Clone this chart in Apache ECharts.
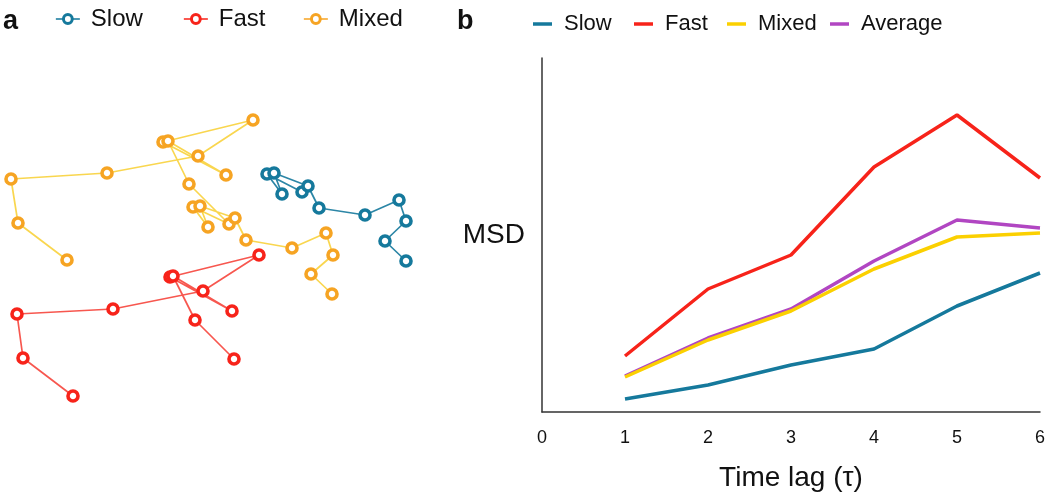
<!DOCTYPE html>
<html>
<head>
<meta charset="utf-8">
<script src="https://cdn.jsdelivr.net/npm/echarts@6/dist/echarts.min.js"></script>
<style>
html,body{margin:0;padding:0;background:#fff;}
#chart{width:1050px;height:495px;}
</style>
</head>
<body>
<div id="chart"></div>
<script>
// ---- Panel a: trajectories (arbitrary position units) ----
const slowX = [30.2, 26.7, 28.2, 27.4, 30.8, 31.9, 36.5, 39.9, 40.6, 38.5, 40.6];
const slowY = [20.8, 22.6, 20.6, 22.7, 21.4, 19.2, 18.5, 20.0, 17.9, 15.9, 13.9];
const fastX = [7.3, 2.3, 1.7, 11.3, 20.3, 25.9, 17.0, 23.2, 17.3, 19.5, 23.4];
const fastY = [0.4, 4.2, 8.6, 9.1, 10.9, 14.5, 12.3, 8.9, 12.4, 8.0, 4.1];
const mixedX = [6.7, 1.8, 1.1, 10.7, 19.8, 25.3, 16.3, 22.6, 16.8, 18.9, 22.9, 19.3, 20.8, 20.0, 23.5, 24.6, 29.2, 32.6, 33.3, 31.1, 33.2];
const mixedY = [14.0, 17.7, 22.1, 22.7, 24.4, 28.0, 25.8, 22.5, 25.9, 21.6, 17.6, 19.3, 17.3, 19.4, 18.2, 16.0, 15.2, 16.7, 14.5, 12.6, 10.6];

// ---- Panel b: MSD vs time lag ----
const lags = [1, 2, 3, 4, 5, 6];
const xTicks = ['0', '1', '2', '3', '4', '5', '6'];
const msdSlow = [1.3, 2.7, 4.7, 6.3, 10.6, 13.9];
const msdFast = [5.6, 12.3, 15.7, 24.5, 29.7, 23.4];
const msdMixed = [3.5, 7.2, 10.1, 14.3, 17.5, 17.9];
const msdAverage = [3.6, 7.4, 10.3, 15.1, 19.2, 18.4];

const C = {
  slow: '#15799c', fast: '#f7231a', mixedSym: '#f6a423', mixedLine: '#f8d23c',
  mixedB: '#fbd000', avg: '#b146c2'
};
const FONT = '"Liberation Sans", Arial, Helvetica, sans-serif';

function pairs(xs, ys) { return xs.map((x, i) => [x, ys[i]]); }

const chart = echarts.init(document.getElementById('chart'), null, {renderer: 'canvas'});

function trajSeries(name, xs, ys, symColor, lineColor) {
  return {
    name, type: 'line', xAxisIndex: 0, yAxisIndex: 0,
    data: pairs(xs, ys),
    symbol: 'circle', symbolSize: 10, showAllSymbol: true,
    itemStyle: {color: '#fff', borderColor: symColor, borderWidth: 3.6},
    lineStyle: {color: lineColor, width: 1.7, opacity: 0.9},
    emphasis: {disabled: true}, animation: false
  };
}
function msdSeries(name, data, color, z) {
  return {
    name, type: 'line', xAxisIndex: 1, yAxisIndex: 1,
    data: lags.map((l, i) => [l, data[i]]),
    symbol: 'none', z: z,
    lineStyle: {color: color, width: 3.5},
    itemStyle: {color: color},
    emphasis: {disabled: true}, animation: false
  };
}
function legA(name, left, color) {
  return {
    data: [{name: name, itemStyle: {color: '#fff', borderColor: color, borderWidth: 3}, lineStyle: {color: color, width: 1.7}}],
    left: left, top: 7, itemWidth: 24, itemHeight: 11, padding: 0,
    textStyle: {fontFamily: FONT, fontSize: 24, color: '#111', padding: [0, 0, 0, 6]},
    selectedMode: false
  };
}
function legB(name, left, color) {
  return {
    data: [{name: name, icon: 'rect', itemStyle: {color: color, borderWidth: 0}}],
    left: left, top: 13, itemWidth: 19, itemHeight: 3.5, padding: 0,
    textStyle: {fontFamily: FONT, fontSize: 22, color: '#111', padding: [0, 0, 0, 7]},
    selectedMode: false
  };
}

const option = {
  backgroundColor: '#fff',
  animation: false,
  title: [
    {text: 'a', left: -2, top: 3, textStyle: {fontFamily: FONT, fontSize: 27, fontWeight: 'bold', color: '#111'}},
    {text: 'b', left: 452, top: 3, textStyle: {fontFamily: FONT, fontSize: 27, fontWeight: 'bold', color: '#111'}}
  ],
  legend: [
    legA('Slow', 55, C.slow), legA('Fast', 183, C.fast), legA('Mixed', 303, C.mixedSym),
    legB('Slow', 533, C.slow), legB('Fast', 634, C.fast), legB('Mixed', 727, C.mixedB), legB('Average', 830, C.avg)
  ],
  grid: [
    {left: 0, top: 0, width: 450, height: 400, containLabel: false, outerBoundsMode: 'none'},
    {left: 542, top: 58, width: 498, height: 354, containLabel: false, outerBoundsMode: 'none'}
  ],
  xAxis: [
    {type: 'value', gridIndex: 0, min: 0, max: 45, show: false},
    {type: 'value', gridIndex: 1, min: 0, max: 6, interval: 1,
     axisLine: {show: true, lineStyle: {color: '#333', width: 1.5}},
     axisTick: {show: false}, splitLine: {show: false},
     axisLabel: {fontFamily: FONT, fontSize: 18, color: '#111', margin: 17,
                 formatter: v => xTicks[v]},
     name: 'Time lag (τ)', nameLocation: 'middle', nameGap: 52,
     nameTextStyle: {fontFamily: FONT, fontSize: 28, color: '#111'}}
  ],
  yAxis: [
    {type: 'value', gridIndex: 0, min: 0, max: 40, show: false},
    {type: 'value', gridIndex: 1, min: 0, max: 35.4,
     axisLine: {show: true, lineStyle: {color: '#333', width: 1.5}},
     axisTick: {show: false}, splitLine: {show: false}, axisLabel: {show: false},
     name: 'MSD', nameLocation: 'middle', nameRotate: 0, nameGap: 17,
     nameTextStyle: {fontFamily: FONT, fontSize: 28, color: '#111', align: 'right'}}
  ],
  series: [
    trajSeries('Slow', slowX, slowY, C.slow, C.slow),
    trajSeries('Fast', fastX, fastY, C.fast, '#f6453c'),
    trajSeries('Mixed', mixedX, mixedY, C.mixedSym, C.mixedLine),
    msdSeries('Slow', msdSlow, C.slow, 3),
    msdSeries('Fast', msdFast, C.fast, 3),
    msdSeries('Average', msdAverage, C.avg, 2),
    msdSeries('Mixed', msdMixed, C.mixedB, 4)
  ]
};
chart.setOption(option);
</script>
</body>
</html>
